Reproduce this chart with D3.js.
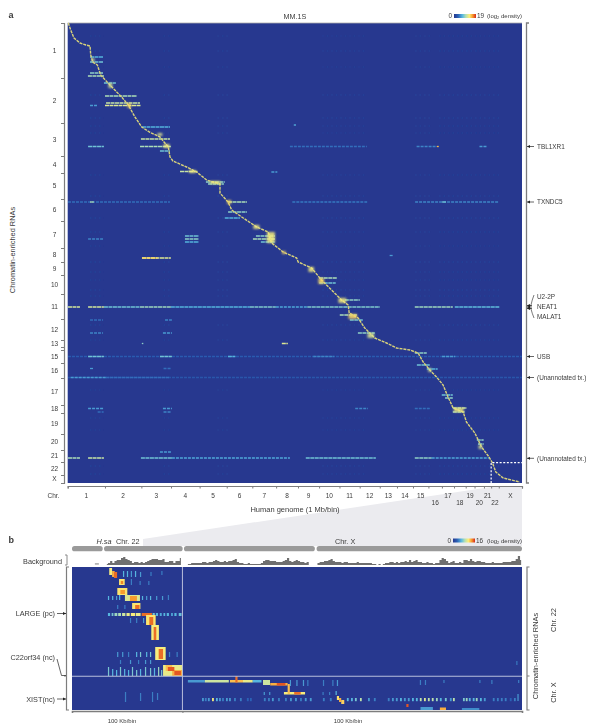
<!DOCTYPE html>
<html>
<head>
<meta charset="utf-8">
<script src="https://cdn.jsdelivr.net/npm/d3@7"></script>
<style>
body { margin: 0; background: #fff; }
text { font-family: "Liberation Sans", Arial, sans-serif; fill: #3a3a3a; }
</style>
</head>
<body>
<div id="chart"></div>
<script>
// chromosome names and hg19 sizes (Mb), columns of panel a
var chrNames = ["1","2","3","4","5","6","7","8","9","10","11","12","13","14","15","16","17","18","19","20","21","22","X"];
var chrSizes = [249,243,198,191,181,171,159,146,141,136,135,134,115,107,103,90,81,78,59,63,48,51,155];
// how many enriched RNA rows each chromosome gets, rows of panel a
var rnaRows = [55,45,33,17,26,22,27,14,13,19,25,21,7,3,13,15,27,8,21,16,12,13,8];

// the diagonal: genome position (Mb), row
var diagMb = [4,20,42,82,122,149,154,167,198,220,282,360,405,449,494,545,616,649,672,683,703,794,861,928,1017,1017,1071,1095,1172,1262,1339,1362,1439,1529,1539,1629,1695,1762,1829,1873,1880,1940,1984,2051,2129,2196,2285,2340,2374,2418,2463,2507,2540,2574,2641,2663,2719,2764,2814,2837,2859,2908,3019];
var diagRow = [0,7,15,20,22,23,32,39,42,52,62,74,82,94,104,109,114,120,124,134,138,144,149,157,161,170,179,187,195,204,209,220,229,235,239,245,257,267,277,282,290,295,305,315,320,325,327,330,339,347,354,362,374,385,389,399,410,424,434,440,449,455,459];

// [row, from Mb, to Mb, log2 density]
var streaks = [
  [34,149,236,7],[39,149,236,8],[50,149,236,9],[53,135,242,10],[60,242,322,8],[73,249,463,10],[80,256,483,11],
  [82.5,149,200,6],[82.5,249,489,12],[104,496,683,7],[116,489,683,11],[123.5,136,242,8],[123.5,483,689,10],
  [128,616,683,8],[148.5,750,870,11],[159,923,1049,9],[161,937,1043,9],
  [179,2,683,4],[179,149,175,10],[179,1071,1197,10],[189,1071,1197,9],[195,1049,1150,7],
  [213,783,876,8],[213,1257,1384,9],[216,136,236,5],[216,783,876,9],[216,1237,1384,10],[219,783,876,7],[219,1290,1384,8],
  [235,496,689,12],[235,496,600,14],
  [284,2,82,11.5],[284,136,242,11.5],[284,242,483,8],[284,483,689,9.5],[284,689,1217,7],[284,1217,1390,8.5],[284,1390,1600,6.5],
  [284,1600,2085,8.5],[284,2318,2572,9.5],[284,2585,2885,7.5],
  [297,149,236,4],[297,650,696,5],[310,149,236,5],[310,636,696,6],
  [333.5,2,3033,3],[333.5,136,242,8],[333.5,616,696,8],[333.5,1070,1120,7],[333.5,1640,1780,5],[333.5,2500,2590,6],
  [345.5,149,175,6],[345.5,640,690,4],[354.5,2,3033,2.5],[354.5,20,256,6],[354.5,256,680,4],
  [385.5,136,240,6],[385.5,636,696,6],[385.5,1920,2005,5],[385.5,2318,2418,4],[389,200,240,4],[389,640,690,5],
  [435,2,82,10],[435,136,242,11],[435,489,696,8],[435,696,1484,6.5],[435,1590,2058,8],[435,2318,2431,9],[435,2431,2818,6.5],
  [429,616,696,6],
  [123.5,1484,1998,4],[123.5,2330,2465,5],[123.5,2750,2800,6],[179,1500,2000,4.5],[179,2320,2880,5],[179,2500,2530,8],
  [277,1851,1951,9],[292,1817,1931,10],[297,1884,1971,8],[310,1938,2051,9],[255,1680,1800,10],[260,1680,1790,8],
  [330,2318,2398,9],[342,2332,2418,8],[346,2398,2471,7],[372,2498,2572,8],[375,2520,2572,9],[385,2572,2665,11],
  [389,2572,2651,10],[417,2732,2778,9],[421,2740,2778,9],
  // single spots away from the diagonal
  [123.5,2465,2478,15],[320.5,495,505,9],[320.5,1430,1470,12],[102,1510,1525,7],[149,1360,1400,6],[232.5,2150,2175,6]
];
// [from Mb, to Mb, from row, to row, log2 density]
var hotBlobs = [
  [400,423,80,85,14],[162,178,35,39,12],[272,298,60,65,12],[640,680,121,125,13],[600,632,110,113,12],
  [810,855,147,150,13],[950,1020,158,161,13],[1065,1092,177,181,14],[1240,1280,202,206,13],[1330,1384,209,220,13],
  [1432,1455,228,231,14],[1608,1645,244,249,13],[1674,1712,255,261,14],[1808,1860,275,280,13],[1875,1932,291,296,14],
  [2002,2046,310,315,12],[2578,2645,385,389,13],[2408,2428,345,349,12],[2744,2768,422,426,12]
];
// faint rows repeated over the same stretches of genome
var faintRows = [13,28,44,72,95,103,110,152,173,195,209,223,239,249,257,267,273,302,317,367,395,407,443,451];
var faintLevels = [2,2.5,2,3,3,2.5,2,2.5,3,3,2.5,2,3,2.5,2,3,2.5,3,2.5,2,2.5,2,3,2.5];
var faintSpans = [[149,240],[640,692],[1000,1090],[1700,1990],[2320,2420],[2480,2880]];

// annotated RNAs on the right side of panel a
var rnaNotes = [["TBL1XR1",123.5],["TXNDC5",179],["USB",333.5],["(Unannotated tx.)",354.5],["(Unannotated tx.)",435.3]];

// panel b: ideogram pieces and background track (Mb along chr22 + chrX)
var ideogram = [[0,14.1],[14.7,50.8],[51.4,111.5],[112.3,206.6]];
var bgStart22 = 16, bgStartX = 53.2;
var bg22 = [1,2,4,2,4,5,5,7,8,6,5,4,2,3,3,2,3,2,3,4,5,6,6,6,5,5,6,3,3,4,4,2,4,4,7];
var bgX = [1,1,2,2,2,2,2,3,3,2,3,3,4,5,4,3,3,4,3,4,4,5,6,3,2,2,1,1,2,1,1,1,1,1,2,4,5,5,4,4,4,3,3,3,4,5,7,4,3,4,5,4,3,3,2,3,0,0,0,0,
  2,3,3,4,4,5,6,4,3,3,3,2,3,3,2,2,2,2,3,2,2,2,2,2,2,1,1,0,1,0,1,2,2,3,3,2,3,2,3,3,4,3,5,3,4,5,3,3,2,2,3,2,2,1,2,2,5,7,6,4,
  2,3,4,2,2,3,2,5,5,4,6,4,3,4,4,3,3,2,2,2,3,2,2,2,2,3,3,3,3,4,4,6,9,5];

// panel b marks: [from Mb, to Mb, from row, to row, log2 density]
var blocksB = [
  [17.1,18.4,1,8,11],[18.4,19.6,4,10,13],[19.3,20.7,5,11,14.5],
  [21.6,24.2,12,18,11.5],[22.4,23.5,14,17,14],
  [20.8,25.4,21,28,11.5],[22.2,24.3,23,27,13.5],
  [24.3,31.2,28,34,10],[26.6,29.8,29,34,13.5],
  [27.6,31.4,36,42,11.5],[29,31,38,42,14.5],
  // LARGE row
  [16.5,17.5,46,49,6],[18.2,19,46,49,7],[19.5,20.8,46,49,8],[21.2,22.5,46,49,8.5],[23,24.5,46,49,9.5],[25,26.5,46,49,10.5],[27,29,46,49,11],[29.3,31.5,46,49,10.5],
  [32,36.7,46,49,14.5],[37,38,46,49,7],[38.5,39.5,46,49,6],[40.3,41.2,46,49,5.5],[42,42.8,46,49,6],[43.5,44.5,46,49,6],[45.5,46.3,46,49,5.5],[47,48,46,49,6],[49,50.3,46,49,6.5],
  [34,38.4,48,58,11.5],[35.5,37.3,50,58,14.5],
  [36.4,39.9,58,73,11],[37.5,38.7,60,73,14.5],
  [38.2,43,80,93,11],[39.8,41.8,82,92,14.5],
  [41.8,50.7,98,109,10.5],[43,46,98,104,12.5],[46,50.7,103,109,13],[44,47,100,104,15],[47,50,104,108,15],
  [53.2,61,113,115.5,5],[61,72,113,115.5,9.5],[72.5,78.5,113,115.5,12.5],[75,76,109,115.5,14.5],[78.5,83,113,115.5,10.5],[83,87,113,115.5,6],
  [87.7,90.9,113,118,9.5],[91,99,116,118.5,13],[94,98,116,118.5,15],
  [97.3,107,125,127.5,11],[102,105,125,127.5,14.5],[99,100,117,127,12.5],
  [121.6,122.6,129,133,11.5],[122.6,123.6,131,135,13],[123.6,125,133,137,12],
  [153.5,154.5,137,140,15],[168.9,171.7,140.5,143,13],[160,165.7,140,143,5],[179,187,141,143,4.5],[204,204.5,94,98,4]
];
// short vertical ticks: [Mb, from row, to row, log2 density]
var ticksB = [
  [23.4,4,10,5],[25.2,4,10,5],[27,4,10,4],[28.9,4,10,5],[31.2,5,10,4],[36,5,9,3],[41,4,8,3],
  [27,12,18,3],[31,14,18,3],[35,14,18,3],
  [16.5,29,33,5],[18.4,29,33,5],[20.2,29,33,4],[21.6,26,33,5],[32.1,29,33,5],[34,29,33,4],[35.8,29,33,5],[38.6,29,33,4],[41.3,29,33,4],[44,28,33,3],
  [26.6,51,56,3],[29.4,51,56,3],[32.6,51,56,4],[20.7,38,42,3],[24,38,42,3],
  [20.7,85,90,4],[23,85,90,4],[25.7,85,90,3],[29.4,85,90,5],[31.2,85,90,6],[34,85,90,5],[35.8,85,90,6],[44.5,85,90,3],[48,85,90,3],
  [22,93,97,3],[26.6,93,97,4],[30.3,93,97,3],[33.5,93,97,4],[35.8,93,97,4],
  [16.5,100,109,6],[18.4,102,109,5],[20.2,103,109,5],[22,100,109,6],[23.9,102,109,5],[25.7,103,109,5],[27.5,100,109,6],[29.4,103,109,6],[31.2,102,109,5],[33.5,100,109,6],[35.8,101,109,6],[37.6,101,109,5],[39.5,100,109,7],[40.9,103,109,6],
  [24.3,125,135,3],[31.2,126,134,3],[36.7,125,135,3],[39,126,133,3],
  [100,113,119,4],[103,113,119,4],[106,113,119,4],[108,113,119,3],[115.2,113,119,3],[119.5,113,119,3],[121.6,113,119,4],[159.7,113,118,3],[162,113,118,3],[170.5,113,116,3],[187,113,116,3],[192.5,113,117,3],[204.8,113,116,3],
  [88,125,128,4],[90.5,125,128,4],[115,125,128,3],[118,125,128,3],[121,124,128,5],[204.5,127,134,4]
];
// dotted row under chr X: position (Mb), density
var row3Mb = [59.7,61,62.4,64.3,66.1,67.5,68.9,70.7,72.1,74.4,77.1,80.3,81.7,88.1,90,91.8,94.6,97.8,100.1,102.4,104.7,106.9,109.2,115.2,118.4,126.2,128.1,129.9,132.2,135.9,138.6,145,146.9,148.7,150.6,152.4,154.2,156.1,157.9,159.7,161.6,163.4,165.2,167.1,168.9,171.2,173.5,174.9,179.5,180.8,182.2,184,185.4,187.3,189.1,193.2,195.1,196.9,198.7,201,202.9];
var row3Val = [5,4,5,11,6,5,4,5,5,4,4,3,3,4,4,5,4,4,5,5,4,5,5,4,4,6,6,7,9,5,4,4,5,5,6,5,5,6,6,9,10,9,9,8,6,7,5,9,7,8,6,6,8,6,5,4,4,4,4,3,4];

var colorStops = [[0,"#27388f"],[0.18,"#2a5fb4"],[0.38,"#58b8e0"],[0.54,"#b4e0b4"],[0.7,"#fdee78"],[0.85,"#f7982c"],[1,"#d4281c"]];
var ramp = d3.scaleLinear().domain(colorStops.map(function(d){return d[0];})).range(colorStops.map(function(d){return d[1];})).clamp(true);

var svg = d3.select("#chart").append("svg").attr("width",589).attr("height",728);
var defs = svg.append("defs");
function blur(id,s){
  defs.append("filter").attr("id",id).attr("x","-2%").attr("y","-2%").attr("width","104%").attr("height","104%")
    .append("feGaussianBlur").attr("stdDeviation",s);
}
blur("softA",0.5); blur("softHot",0.9); blur("softB",0.75);
var grad = defs.append("linearGradient").attr("id","ramp");
grad.selectAll("stop").data(colorStops).enter().append("stop")
  .attr("offset",function(d){return d[0];}).attr("stop-color",function(d){return d[1];});

var gray = "#7d7d7d";

function label(s,x,y,size,anchor,weight){
  return svg.append("text").attr("x",x).attr("y",y).attr("font-size",size)
    .attr("text-anchor",anchor||"start").attr("font-weight",weight||"normal").text(s);
}
function vlabel(s,x,y,size){
  return svg.append("text").attr("transform","translate("+x+","+y+") rotate(-90)").attr("font-size",size)
    .attr("text-anchor","middle").text(s);
}
function arrow(x1,x2,y){
  var d = x2>x1 ? -1 : 1;
  svg.append("line").attr("x1",x1).attr("x2",x2).attr("y1",y).attr("y2",y).attr("stroke","#222").attr("stroke-width",0.7);
  svg.append("path").attr("fill","#222").attr("d","M"+x2+","+y+"l"+(3*d)+",-1.4v2.8z");
}
function colorbar(x,y,w,h,top){
  svg.append("rect").attr("x",x).attr("y",y).attr("width",w).attr("height",h).attr("fill","url(#ramp)");
  label("0",x-2,y+h,6.4,"end");
  label(top,x+w+1,y+h,6.4);
  var t = label("",522,y+h,6,"end");
  t.append("tspan").text("(log");
  t.append("tspan").attr("font-size",4).attr("dy",1.4).text("2");
  t.append("tspan").attr("dy",-1.4).text(" density)");
}

// ---------- panel a ----------
var chrEnds = d3.cumsum(chrSizes);
var rowEnds = d3.cumsum(rnaRows);
var x = d3.scaleLinear().domain([0,chrEnds[22]]).range([67.7,522]);
var y = d3.scaleLinear().domain([0,460]).range([23,483]);

// grey wedge that links the chr22/X box to panel b
svg.append("polygon").attr("fill","#ebebef")
  .attr("points","491,487 522,487 522,546 143,546 143,539");

svg.append("rect").attr("x",x(0)).attr("y",y(0)).attr("width",x(chrEnds[22])-x(0)).attr("height",y(460)-y(0)).attr("fill",ramp(0));
svg.append("line").attr("x1",x(0)).attr("x2",522).attr("y1",23).attr("y2",23).attr("stroke","#aaa").attr("stroke-width",0.8);

var heatA = svg.append("g").attr("filter","url(#softA)");
var faint = [];
faintRows.forEach(function(r,i){
  faintSpans.forEach(function(s){ faint.push([r,s[0],s[1],faintLevels[i]]); });
});
heatA.selectAll("line.faint").data(faint).enter().append("line").attr("class","faint")
  .attr("x1",function(d){return x(d[1]);}).attr("x2",function(d){return x(d[2]);})
  .attr("y1",function(d){return y(d[0]);}).attr("y2",function(d){return y(d[0]);})
  .attr("stroke",function(d){return ramp(d[3]/19);}).attr("stroke-width",0.9)
  .attr("stroke-dasharray","1.5,3").attr("opacity",0.55);
heatA.selectAll("line.streak").data(streaks).enter().append("line").attr("class","streak")
  .attr("x1",function(d){return x(d[1]);}).attr("x2",function(d){return x(d[2]);})
  .attr("y1",function(d){return y(d[0]);}).attr("y2",function(d){return y(d[0]);})
  .attr("stroke",function(d){return ramp(d[3]/19);}).attr("stroke-width",1.3)
  .attr("stroke-dasharray",function(d){return d[3]<7 ? "3,1" : "4,0.5";});
var diagLine = d3.line().x(function(d){return x(d[0]);}).y(function(d){return y(d[1]);});
svg.append("g").attr("filter","url(#softA)").append("path").datum(d3.zip(diagMb,diagRow)).attr("d",diagLine)
  .attr("fill","none").attr("stroke","#d8d27a").attr("stroke-width",1.4).attr("stroke-linejoin","round")
  .attr("stroke-dasharray","3,0.9");
svg.append("g").attr("filter","url(#softHot)").selectAll("rect.hot").data(hotBlobs).enter().append("rect").attr("class","hot")
  .attr("x",function(d){return x(d[0]);}).attr("y",function(d){return y(d[2]);})
  .attr("width",function(d){return x(d[1])-x(d[0]);}).attr("height",function(d){return y(d[3])-y(d[2]);})
  .attr("fill",function(d){return ramp(d[4]/19);}).attr("opacity",0.85);

// dashed box round chr22 and X
var boxX = x(chrEnds[20]), boxY = y(439.7);
var boxPts = [[boxX,483],[boxX,boxY],[522,boxY]];
svg.append("path").attr("d",d3.line()(boxPts)).attr("fill","none").attr("stroke","#fff").attr("stroke-width",1.2).attr("stroke-dasharray","2,1.6");

// axes: ticks are the chromosome boundaries
var xAxis = svg.append("g").attr("transform","translate(0,486)")
  .call(d3.axisBottom(x).tickValues([0].concat(Array.from(chrEnds))).tickFormat("").tickSize(2.5));
var yAxis = svg.append("g").attr("transform","translate(64,0)")
  .call(d3.axisLeft(y).tickValues([0].concat(Array.from(rowEnds))).tickFormat("").tickSize(3));
[xAxis,yAxis].forEach(function(a){
  a.selectAll("path,line").attr("stroke",gray);
  a.select("path").attr("stroke-width",1.2);
});

chrNames.forEach(function(c,i){
  var mid = chrEnds[i]-chrSizes[i]/2;
  var low = (c=="16"||c=="18"||c=="20"||c=="22");
  label(c,x(mid),low?505:497.5,6.5,"middle");
  if(c!="14"){
    var rmid = rowEnds[i]-rnaRows[i]/2;
    label(c,54.5,y(rmid)+2.3,6.5,"middle");
  }
});
label("Chr.",53.5,497.5,6.5,"middle");
label("Human genome (1 Mb/bin)",295,512,7.5,"middle");
vlabel("Chromatin-enriched RNAs",15,250,7.4);
label("a",8.5,18,9,"start","bold");
label("MM.1S",295,18.5,7.2,"middle");
colorbar(454,14,22,4,"19");

// right bracket with annotated RNAs
svg.append("path").attr("d","M529,23H526.5V483H529").attr("fill","none").attr("stroke",gray).attr("stroke-width",1.3);
rnaNotes.forEach(function(d){
  arrow(534,527,y(d[1]));
  label(d[0],537,y(d[1])+2.3,6.4);
});
arrow(532,527,305.5); arrow(532,527,307); arrow(532,527,308.5);
svg.append("path").attr("d","M534,295Q532,300 531,305Q530,307 529,307Q530,307 531,309Q532,313 534,318")
  .attr("fill","none").attr("stroke","#222").attr("stroke-width",0.6);
label("U2-2P",537,298.5,6.4);
label("NEAT1",537,308.5,6.4);
label("MALAT1",537,318.5,6.4);

// ---------- panel b ----------
var xb = d3.scaleLinear().domain([0,206.6]).range([72,522]);
var yb = d3.scaleLinear().domain([0,143]).range([567,710]);

label("b",8.5,543,9,"start","bold");
var hsa = label("H.sa",96.5,543.5,7.3); hsa.attr("font-style","italic");
label("Chr. 22",116,543.5,7.3);
label("Chr. X",335,543.5,7.3);
colorbar(453,538.5,22,4,"16");

svg.selectAll("rect.ideo").data(ideogram).enter().append("rect").attr("class","ideo")
  .attr("x",function(d){return xb(d[0]);}).attr("width",function(d){return xb(d[1])-xb(d[0]);})
  .attr("y",546).attr("height",5.3).attr("rx",2.6).attr("fill","#9a9a9a");

// background track
var hb = d3.scaleLinear().domain([0,9]).range([565,556]);
var area = d3.area().x(function(d){return xb(d[0]);}).y0(565).y1(function(d){return hb(d[1]);}).curve(d3.curveStep);
var track22 = bg22.map(function(v,i){return [bgStart22+i,v];});
var trackX = bgX.map(function(v,i){return [bgStartX+i,v];});
[track22,trackX].forEach(function(t){
  svg.append("path").datum(t).attr("d",area).attr("fill","#6f6f6f");
});
svg.append("rect").attr("x",xb(10.5)).attr("y",563.5).attr("width",4).attr("height",0.9).attr("fill","#6f6f6f");
svg.append("path").attr("d","M65,555H67V565H65").attr("fill","none").attr("stroke",gray).attr("stroke-width",0.9);
label("Background",62,563.5,7.3,"end");

svg.append("rect").attr("x",72).attr("y",567).attr("width",450).attr("height",143).attr("fill",ramp(0));
var heatB = svg.append("g").attr("filter","url(#softB)");
heatB.selectAll("rect.tick").data(ticksB).enter().append("rect").attr("class","tick")
  .attr("x",function(d){return xb(d[0]);}).attr("y",function(d){return yb(d[1]);})
  .attr("width",1.2).attr("height",function(d){return yb(d[2])-yb(d[1]);})
  .attr("fill",function(d){return ramp((d[3]+1)/16);});
heatB.selectAll("rect.dot").data(d3.zip(row3Mb,row3Val)).enter().append("rect").attr("class","dot")
  .attr("x",function(d){return xb(d[0]);}).attr("y",yb(131)).attr("width",1.8).attr("height",3.2)
  .attr("fill",function(d){return ramp(d[1]/16);});
heatB.selectAll("rect.block").data(blocksB).enter().append("rect").attr("class","block")
  .attr("x",function(d){return xb(d[0]);}).attr("y",function(d){return yb(d[2]);})
  .attr("width",function(d){return xb(d[1])-xb(d[0]);}).attr("height",function(d){return yb(d[3])-yb(d[2]);})
  .attr("fill",function(d){return ramp(d[4]/16);});

// separators between chromosomes
var divCol = "#b9bfdc";
svg.append("line").attr("x1",72).attr("x2",522).attr("y1",yb(109.3)).attr("y2",yb(109.3)).attr("stroke",divCol).attr("stroke-width",1.1);
svg.append("line").attr("x1",xb(50.7)).attr("x2",xb(50.7)).attr("y1",567).attr("y2",710).attr("stroke",divCol).attr("stroke-width",1);

var bAxis = svg.append("g").attr("transform","translate(0,711)")
  .call(d3.axisBottom(xb).tickValues([0,50.7,206.6]).tickFormat("").tickSize(2));
bAxis.selectAll("path,line").attr("stroke",gray);
bAxis.select("path").attr("stroke-width",1.6);
svg.append("path").attr("d","M69,567H66.5V710H69M66.5,613.5H64M66.5,676H64").attr("fill","none").attr("stroke",gray).attr("stroke-width",1.2);
svg.append("path").attr("d","M529.5,567H527V710H529.5M527,676H529.5").attr("fill","none").attr("stroke",gray).attr("stroke-width",1.2);

label("LARGE (pc)",55,615.5,7.3,"end");
arrow(57,66,613.5);
label("C22orf34 (nc)",55,660,7.3,"end");
svg.append("path").attr("d","M57,659L61.5,675.5H66").attr("fill","none").attr("stroke","#222").attr("stroke-width",0.7);
label("XIST(nc)",55,701.5,7.3,"end");
arrow(57,66,699);

vlabel("Chromatin-enriched RNAs",538,656,7.4);
vlabel("Chr. 22",556,620,7.4);
vlabel("Chr. X",556,692.5,7.4);
label("100 Kb/bin",122,723,6,"middle");
label("100 Kb/bin",348,723,6,"middle");
</script>
</body>
</html>
